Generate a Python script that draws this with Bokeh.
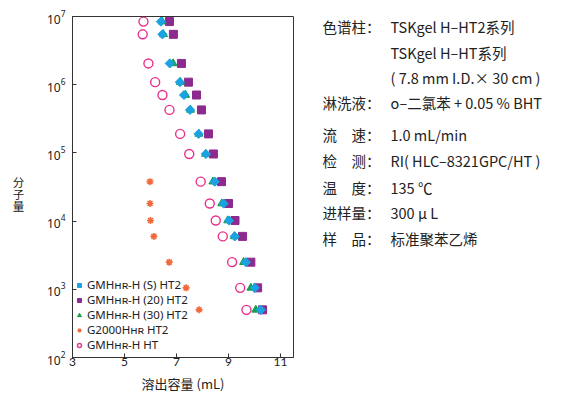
import math
from bokeh.plotting import figure
from bokeh.models import Label, Legend, LegendItem, FixedTicker, Range1d
from bokeh.layouts import row, column
from bokeh.embed import file_html
from bokeh.resources import INLINE

# ---- data ----
mol_weight = [8.42e6, 5.48e6, 2.05e6, 1.09e6, 7.06e5, 4.27e5, 1.90e5, 9.64e4,
              3.79e4, 1.81e4, 1.02e4, 5.97e3, 2.50e3, 1.05e3, 5.00e2]
vol_gmh_s_ht2 = [6.40, 6.46, 6.74, 7.13, 7.29, 7.52, 7.85, 8.13, 8.47, 8.81, 9.02, 9.24, 9.67, 10.01, 10.24]
vol_gmh_20_ht2 = [6.73, 6.88, 7.19, 7.46, 7.77, 7.96, 8.23, 8.42, 8.73, 9.00, 9.25, 9.54, 9.86, 10.12, 10.31]
vol_gmh_30_ht2 = [6.45, 6.50, 6.87, 7.15, 7.35, 7.54, 7.86, 8.12, 8.40, 8.74, 8.97, 9.22, 9.58, 9.86, 10.05]
mol_weight_g2000 = [3.79e4, 1.81e4, 1.02e4, 5.97e3, 2.50e3, 1.05e3, 5.00e2]
vol_g2000_ht2 = [5.98, 5.98, 6.00, 6.13, 6.72, 7.37, 7.87]
vol_gmh_ht = [5.73, 5.70, 5.92, 6.18, 6.46, 6.73, 7.14, 7.49, 7.93, 8.28, 8.51, 8.78, 9.14, 9.45, 9.69]

x_ticks = [3, 5, 7, 9, 11]
y_ticks = [1e2, 1e3, 1e4, 1e5, 1e6, 1e7]

series_labels = ["GMHʜʀ-H (S) HT2", "GMHʜʀ-H (20) HT2", "GMHʜʀ-H (30) HT2",
                 "G2000Hʜʀ HT2", "GMHʜʀ-H HT"]

x_title = "溶出容量 (mL)"
y_title = "分子量"

cond_labels = ["色谱柱：", "", "", "淋洗液：", "流　速：", "检　测：", "温　度：", "进样量：", "样　品："]
cond_values = ["TSKgel H–HT2系列", "TSKgel H–HT系列", "( 7.8 mm I.D.× 30 cm )",
               "o–二氯苯 + 0.05 % BHT", "1.0 mL/min", "RI( HLC–8321GPC/HT )",
               "135 ℃", "300 μ L", "标准聚苯乙烯"]

# ---- layout sizes (px) ----
W, H = 568, 391
A_W = 30          # strip holding the stacked y title
M_W = 270         # main chart
C_W = W - A_W - M_W
TOP_H = 374
D_H = H - TOP_H   # strip holding the x title
BT, BB = 16, 17   # top / bottom borders shared by the plots of the top row
FT, FB = BT, TOP_H - BB

cjk = "Noto Sans CJK SC"
ink = "#222222"


def blank(w, h, y0, y1, bt=0, bb=0):
    f = figure(width=w, height=h, x_range=Range1d(0, w), y_range=Range1d(y1, y0),
               output_backend="svg", toolbar_location=None, title_location=None,
               x_axis_location=None, y_axis_location=None,
               min_border=0, min_border_left=0, min_border_right=0,
               min_border_top=bt, min_border_bottom=bb)
    f.outline_line_color = None
    f.xgrid.visible = False
    f.ygrid.visible = False
    f.background_fill_color = "white"
    f.border_fill_color = "white"
    return f


def put(f, x, y, text, size, align="left"):
    f.add_layout(Label(x=x, y=y, text=text, text_font=cjk, text_font_size=size,
                       text_color=ink, text_align=align, text_baseline="middle"))


# ---- main chart ----
p = figure(width=M_W, height=TOP_H, x_range=(3, 11.5), y_range=(1e2, 1e7), y_axis_type="log",
           output_backend="svg", toolbar_location=None, title_location=None,
           min_border_left=42, min_border_right=7, min_border_top=BT, min_border_bottom=BB)
p.background_fill_color = "white"
p.border_fill_color = "white"
p.outline_line_color = "#333333"
p.outline_line_width = 1
p.xgrid.visible = False
p.ygrid.visible = False

p.xaxis.ticker = FixedTicker(ticks=x_ticks)
p.yaxis.ticker = FixedTicker(ticks=y_ticks)
for ax in (p.xaxis[0], p.yaxis[0]):
    ax.axis_line_color = "#333333"
    ax.major_tick_line_color = "#333333"
    ax.major_tick_in = 4
    ax.major_tick_out = 0
    ax.minor_tick_line_color = None
    ax.major_label_text_color = ink
    ax.major_label_text_font_size = "12px"
p.xaxis.major_label_text_font = "Lato"
p.yaxis.major_label_text_font = "Noto Sans"
p.xaxis.major_label_standoff = 0
p.yaxis.major_label_standoff = 7

r_ht = p.scatter(vol_gmh_ht, mol_weight, marker="circle", size=9, fill_color=None,
                 line_color="#e8318c", line_width=1.4)
r_g2 = p.scatter(vol_g2000_ht2, mol_weight_g2000, marker="asterisk", size=7,
                 line_color="#f26a3c", line_width=1.6)
r_20 = p.scatter(vol_gmh_20_ht2, mol_weight, marker="square", size=8,
                 fill_color="#8c2a8f", line_color="#8c2a8f")
r_30 = p.scatter(vol_gmh_30_ht2, mol_weight, marker="triangle", size=8,
                 fill_color="#15a04a", line_color="#15a04a")
r_s = p.scatter(vol_gmh_s_ht2, mol_weight, marker="square", size=6.5, angle=math.pi / 4,
                fill_color="#1aa3e0", line_color="#1aa3e0")

legend = Legend(items=[LegendItem(label=series_labels[0], renderers=[r_s]),
                       LegendItem(label=series_labels[1], renderers=[r_20]),
                       LegendItem(label=series_labels[2], renderers=[r_30]),
                       LegendItem(label=series_labels[3], renderers=[r_g2]),
                       LegendItem(label=series_labels[4], renderers=[r_ht])],
                location=(2, 5))
legend.margin = 0
legend.padding = 0
legend.spacing = -2
legend.glyph_width = 10
legend.glyph_height = 10
legend.label_height = 12
legend.label_standoff = 3
legend.label_text_font = "Noto Sans"
legend.label_text_font_size = "11.5px"
legend.label_text_color = ink
legend.background_fill_alpha = 0
legend.border_line_color = None
p.add_layout(legend)

# ---- stacked y title (coordinates = canvas px, frame aligned with the chart) ----
fa = blank(A_W, TOP_H, FT, FB, BT, BB)
for ch, yy in zip(y_title, [181, 193, 205]):
    put(fa, 18, yy, ch, "11.5px", "center")

# ---- conditions text ----
fc = blank(C_W, TOP_H, FT, FB, BT, BB)
row_y = [26, 51.7, 77, 102, 134, 160, 186.5, 212, 238]
for lab, val, yy in zip(cond_labels, cond_values, row_y):
    if lab:
        put(fc, 22, yy, lab, "14.5px")
    put(fc, 90, yy, val, "14.5px")

# ---- x title ----
fd = blank(W, D_H, 0, D_H)
put(fd, A_W + 42 + (M_W - 42 - 7) / 2, D_H / 2, x_title, "13px", "center")

layout = column(row(fa, p, fc), fd)
open("out.html", "w").write(file_html(layout, INLINE))
